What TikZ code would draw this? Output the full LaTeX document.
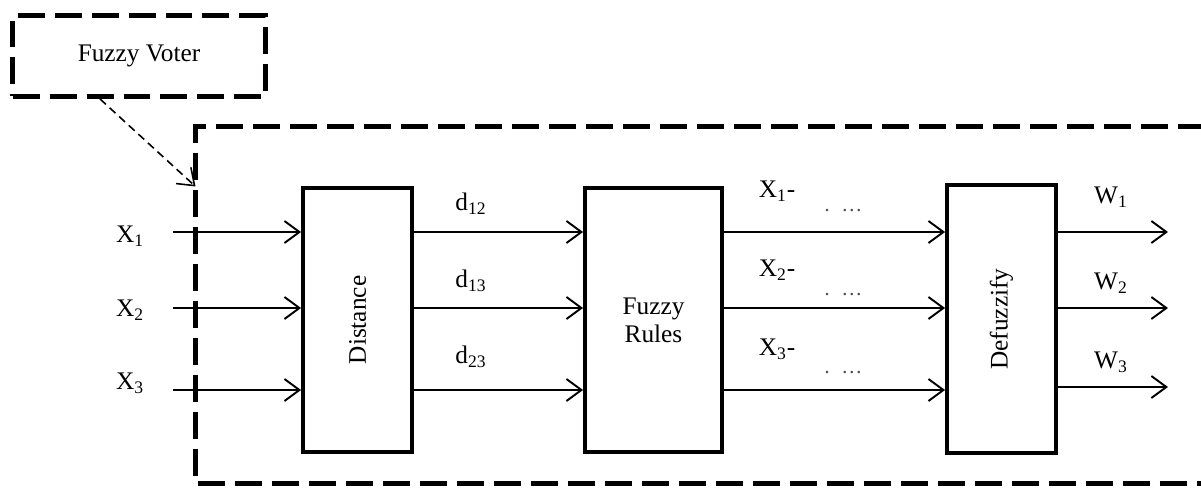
\documentclass[tikz,border=0pt]{standalone}
\usepackage{fontspec}
\setmainfont{Liberation Serif}
\usetikzlibrary{arrows.meta}

\begin{document}
\begin{tikzpicture}[x=0.02cm,y=-0.02cm,
  >={Straight Barb[length=3mm,width=4.4mm]},
  font=\fontsize{14.4}{16}\selectfont,
  block/.style={draw,line width=2.2pt,inner sep=0pt,minimum width=2.18cm},
  flow/.style={->,line width=1.1pt},
  frame/.style={line width=2.8pt,dash pattern=on 0.54cm off 0.2cm},
  cut/.style={font=\fontsize{12}{12}\selectfont,black!70}]
  \useasboundingbox (0,0) rectangle (1201,491);
  % voter label and the dashed frame round the stages
  \node[draw,frame,minimum width=5.06cm,minimum height=1.62cm] (voter) at (139,56) {Fuzzy Voter};
  \coordinate (frameTL) at (195.5,126.5);
  \coordinate (frameBL) at (195.5,483.5);
  \draw[frame] (1205,126.5) -- (frameTL) -- (frameBL) -- (1205,483.5);
  \draw[->,line width=0.9pt,dash pattern=on 0.16cm off 0.1cm]
    ([xshift=-0.78cm]voter.south) -- ([yshift=-1.2cm]frameTL);
  % stages
  \node[block,minimum height=5.28cm] (dist) at (357.5,320) {\rotatebox{90}{Distance}};
  \node[block,minimum width=2.74cm,minimum height=5.28cm,align=center] (rules) at (653.5,320) {Fuzzy\\Rules};
  \node[block,minimum height=5.36cm] (defz) at (1001.5,319) {\rotatebox{90}{Defuzzify}};
  % inputs
  \node (x1) at (130,236) {X\textsubscript{1}};
  \node (x2) at (130,310) {X\textsubscript{2}};
  \node (x3) at (130,383) {X\textsubscript{3}};
  \coordinate (in1) at (173,232);
  \coordinate (in2) at (173,308);
  \coordinate (in3) at (173,390);
  \foreach \i in {1,2,3} {
    \draw[flow] (in\i) -- (in\i -| dist.west);
    \draw[flow] (dist.east |- in\i) -- (rules.west |- in\i);
    \draw[flow] (rules.east |- in\i) -- (defz.west |- in\i);
  }
  % distances
  \node (d12) at (471,204) {d\textsubscript{12}};
  \node (d13) at (471,281) {d\textsubscript{13}};
  \node (d23) at (471,357) {d\textsubscript{23}};
  % rule outputs
  \node (r1) at (777,191) {X\textsubscript{1}-};
  \node (r2) at (777,270) {X\textsubscript{2}-};
  \node (r3) at (777,349) {X\textsubscript{3}-};
  \node[cut] (c1) at (843,213) {·\ \ ···};
  \node[cut] (c2) at (843,297) {·\ \ ···};
  \node[cut] (c3) at (843,375) {·\ \ ···};
  % weights
  \node (w1) at (1111,197) {W\textsubscript{1}};
  \node (w2) at (1111,283) {W\textsubscript{2}};
  \node (w3) at (1111,362) {W\textsubscript{3}};
  \coordinate (out1) at (1168,232);
  \coordinate (out2) at (1168,308);
  \coordinate (out3) at (1168,387);
  \foreach \i in {1,2,3}
    \draw[flow] (defz.east |- out\i) -- (out\i);
\end{tikzpicture}
\end{document}
